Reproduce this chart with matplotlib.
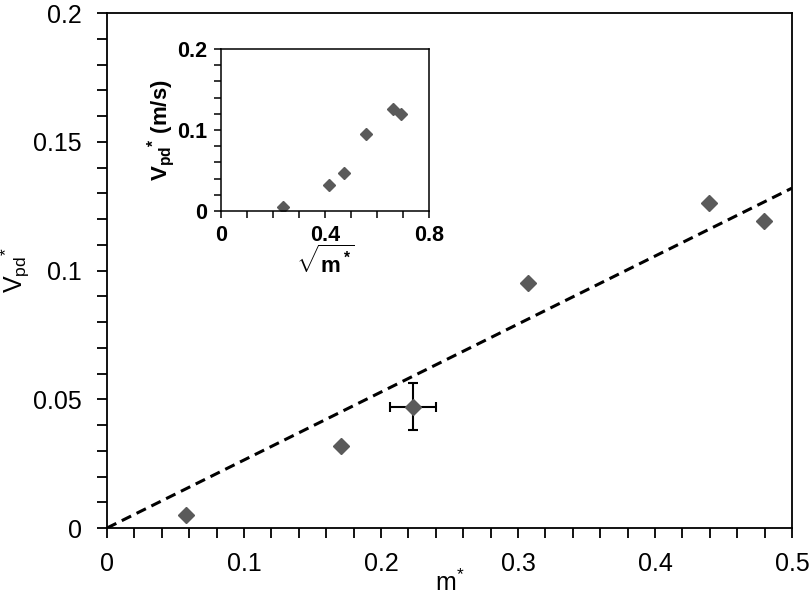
import numpy as np
import matplotlib.pyplot as plt

plt.rcParams['font.family'] = ['Liberation Sans', 'DejaVu Sans']
plt.rcParams['mathtext.fontset'] = 'custom'
plt.rcParams['mathtext.rm'] = 'Liberation Sans'
plt.rcParams['mathtext.it'] = 'Liberation Sans:italic'
plt.rcParams['mathtext.bf'] = 'Liberation Sans:bold'

# main panel data (m*, Vpd*)
m_star = [0.0577, 0.1706, 0.2231, 0.3075, 0.4394, 0.4796]
v_pd = [0.0050, 0.0318, 0.0471, 0.0951, 0.1261, 0.1193]

# error bars on the third point
err_idx = 2
m_err = 0.0167
v_err = 0.0092

# dashed fit through origin
fit_x = [0.0, 0.5]
fit_slope = 0.264

# inset: sqrt(m*) vs Vpd*
sqrt_m = [0.240, 0.416, 0.4735, 0.557, 0.663, 0.6925]
v_pd_inset = [0.0053, 0.0318, 0.0474, 0.0948, 0.1258, 0.1196]

gray = '#5a5a5a'

fig = plt.figure(figsize=(8.1, 6), dpi=100)
ax = fig.add_axes([0.1321, 0.12, 0.8457, 0.8583])

ax.plot(fit_x, [fit_slope * x for x in fit_x], color='black', lw=2.2,
        linestyle=(0, (3.4, 2.0)), zorder=1)
ax.errorbar(m_star[err_idx], v_pd[err_idx], xerr=m_err, yerr=v_err,
            fmt='none', ecolor='black', elinewidth=1.5, capsize=3.5,
            capthick=1.5, zorder=2)
ax.plot(m_star, v_pd, 'D', color=gray, ms=8.6, mec=gray, zorder=3)

ax.set_xlim(0, 0.5)
ax.set_ylim(0, 0.2)
ax.set_xticks([0, 0.1, 0.2, 0.3, 0.4, 0.5])
ax.set_xticklabels(['0', '0.1', '0.2', '0.3', '0.4', '0.5'])
ax.set_yticks([0, 0.05, 0.1, 0.15, 0.2])
ax.set_yticklabels(['0', '0.05', '0.1', '0.15', '0.2'])
ax.set_xticks(np.arange(0, 0.5001, 0.02), minor=True)
ax.set_yticks(np.arange(0, 0.2001, 0.01), minor=True)
ax.tick_params(which='both', direction='out', length=7, width=1.3,
               labelsize=18, pad=11)
ax.tick_params(axis='x', which='both', pad=10)
for s in ax.spines.values():
    s.set_linewidth(1.3)
ax.set_xlabel(r'$\mathregular{m{}^{*}}$', fontsize=18, labelpad=-4)
ax.set_ylabel(r'$\mathregular{V_{pd}{}^{*}}$', fontsize=18, labelpad=1)

# inset
ins = fig.add_axes([0.2728, 0.6483, 0.2568, 0.27])
ins.plot(sqrt_m, v_pd_inset, 'D', color=gray, ms=6.5, mec=gray)
ins.set_xlim(0, 0.8)
ins.set_ylim(0, 0.2)
ins.set_xticks([0, 0.4, 0.8])
ins.set_xticklabels(['0', '0.4', '0.8'])
ins.set_yticks([0, 0.1, 0.2])
ins.set_yticklabels(['0', '0.1', '0.2'])
ins.set_xticks(np.arange(0, 0.8001, 0.1), minor=True)
ins.set_yticks(np.arange(0, 0.2001, 0.02), minor=True)
ins.tick_params(which='both', direction='out', length=5, width=1.1,
                labelsize=15.5, pad=5)
for lab in ins.get_xticklabels() + ins.get_yticklabels():
    lab.set_fontweight('bold')
for s in ins.spines.values():
    s.set_linewidth(1.1)
ins.set_xlabel(r'$\sqrt{\mathbf{m\,}{}^{\mathbf{*}}}$', fontsize=16,
               labelpad=0)
ins.set_ylabel(r'$\mathbf{V_{pd}}{}^{\mathbf{*}}$ (m/s)', fontsize=16,
               fontweight='bold', labelpad=0)

fig.savefig('out.png', dpi=100)
